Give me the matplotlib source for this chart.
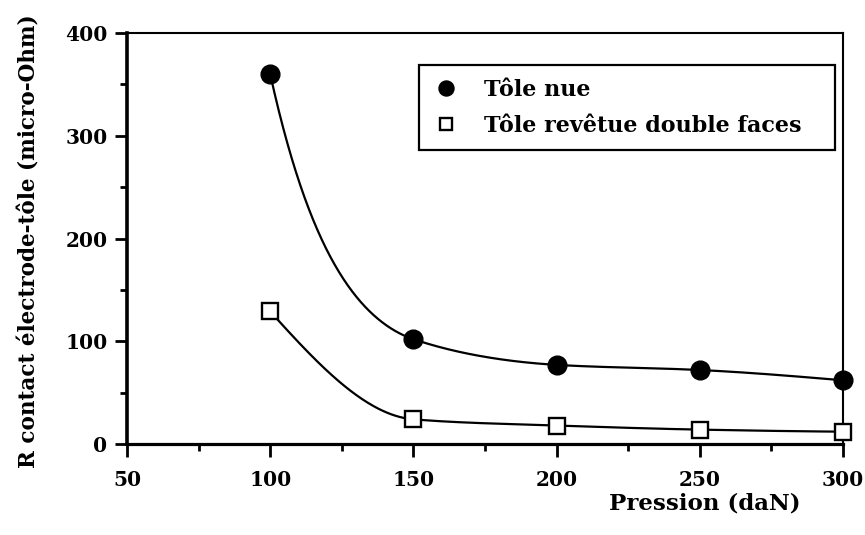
import numpy as np
import matplotlib.pyplot as plt
from matplotlib.ticker import MultipleLocator

# Data
pression = [100, 150, 200, 250, 300]
r_nue = [360, 102, 77, 72, 62]
r_revetue = [129, 24, 18, 14, 12]

xticks = [50, 100, 150, 200, 250, 300]
yticks = [0, 100, 200, 300, 400]


def pchip(x, y, xs):
    # monotone cubic through the measured points (smooth curve as in the figure)
    x = np.asarray(x, float)
    y = np.asarray(y, float)
    h = np.diff(x)
    delta = np.diff(y) / h
    n = len(x)
    d = np.zeros(n)
    for k in range(1, n - 1):
        if delta[k - 1] * delta[k] > 0:
            w1 = 2 * h[k] + h[k - 1]
            w2 = h[k] + 2 * h[k - 1]
            d[k] = (w1 + w2) / (w1 / delta[k - 1] + w2 / delta[k])

    def end(h0, h1, d0, d1):
        s = ((2 * h0 + h1) * d0 - h0 * d1) / (h0 + h1)
        if np.sign(s) != np.sign(d0):
            s = 0.0
        elif np.sign(d0) != np.sign(d1) and abs(s) > abs(3 * d0):
            s = 3 * d0
        return s

    d[0] = end(h[0], h[1], delta[0], delta[1])
    d[-1] = end(h[-1], h[-2], delta[-1], delta[-2])
    idx = np.clip(np.searchsorted(x, xs) - 1, 0, n - 2)
    t = (xs - x[idx]) / h[idx]
    h00 = 2 * t**3 - 3 * t**2 + 1
    h10 = t**3 - 2 * t**2 + t
    h01 = -2 * t**3 + 3 * t**2
    h11 = t**3 - t**2
    return h00 * y[idx] + h10 * h[idx] * d[idx] + h01 * y[idx + 1] + h11 * h[idx] * d[idx + 1]


plt.rcParams['font.family'] = 'DejaVu Serif'
plt.rcParams['font.weight'] = 'bold'
plt.rcParams['axes.labelweight'] = 'bold'

fig = plt.figure(figsize=(8.65, 5.35), dpi=100)
ax = fig.add_axes([0.1468, 0.1701, 0.8278, 0.7682])

xs = np.linspace(pression[0], pression[-1], 400)
# the bare-sheet curve drops more steeply, smoother in log space
ax.plot(xs, np.exp(pchip(pression, np.log(r_nue), xs)), color='black', lw=1.6)
ax.plot(xs, pchip(pression, r_revetue, xs), color='black', lw=1.6)

ax.plot(pression, r_nue, 'o', color='black', ms=13.5, ls='none',
        label='Tôle nue', clip_on=False, zorder=3)
ax.plot(pression, r_revetue, 's', mfc='white', mec='black', mew=1.7, ms=11.5,
        ls='none', label='Tôle revêtue double faces', clip_on=False, zorder=3)

ax.set_xlim(50, 300)
ax.set_ylim(0, 400)
ax.set_xticks(xticks)
ax.set_yticks(yticks)
ax.xaxis.set_minor_locator(MultipleLocator(25))
ax.yaxis.set_minor_locator(MultipleLocator(50))
ax.tick_params(which='major', direction='out', length=9, width=2, labelsize=14.5)
ax.tick_params(axis='x', which='major', pad=10)
ax.tick_params(axis='y', which='major', pad=5)
ax.tick_params(which='minor', direction='out', length=5, width=2)

ax.spines['left'].set_linewidth(2.6)
ax.spines['bottom'].set_linewidth(2.3)
ax.spines['top'].set_linewidth(1.5)
ax.spines['right'].set_linewidth(1.5)

ax.set_ylabel('R contact électrode-tôle (micro-Ohm)', fontsize=15.5)
ax.yaxis.set_label_coords(-0.121, 0.494)
ax.set_xlabel('Pression (daN)', fontsize=16.5, ha='right', va='center')
ax.xaxis.set_label_coords(0.94, -0.1436)

leg = ax.legend(loc='upper left', bbox_to_anchor=(0.408, 0.922, 0.581, 0.0),
                mode='expand', fontsize=16, frameon=True, fancybox=False,
                edgecolor='black', handlelength=1.2, handletextpad=1.1,
                borderpad=0.62, labelspacing=0.62, borderaxespad=0,
                markerscale=0.8)
leg.get_frame().set_linewidth(1.6)
leg.get_frame().set_alpha(1)

fig.savefig('out.png', dpi=100)
